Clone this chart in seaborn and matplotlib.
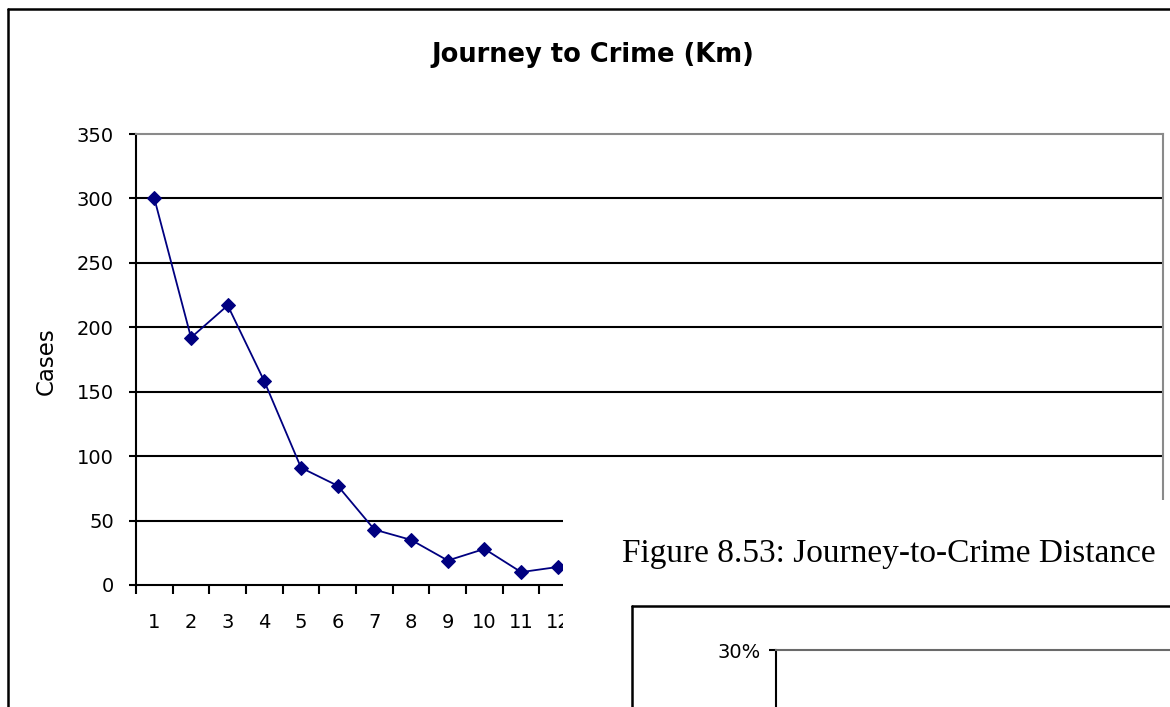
import matplotlib
matplotlib.use("Agg")
import matplotlib.pyplot as plt
import seaborn as sns
from matplotlib.lines import Line2D
from matplotlib.ticker import FixedLocator

# journey-to-crime distances (km bands) and case counts
distance_km = [1, 2, 3, 4, 5, 6, 7, 8, 9, 10, 11, 12]
cases = [300, 192, 217, 158, 91, 77, 43, 35, 19, 28, 10, 14]
n_bands = 28
y_ticks = [0, 50, 100, 150, 200, 250, 300, 350]
grid_levels = [50, 100, 150, 200, 250, 300]

W, H = 1170, 707


def fx(px):
    return px / W


def fy(py):
    return 1 - py / H


sns.set_style("white")
plt.rcParams["font.family"] = ["DejaVu Sans"]
plt.rcParams["text.color"] = "black"
plt.rcParams["xtick.color"] = "black"
plt.rcParams["ytick.color"] = "black"
plt.rcParams["xtick.labelcolor"] = "black"
plt.rcParams["ytick.labelcolor"] = "black"

fig = plt.figure(figsize=(11.7, 7.07), dpi=100)
fig.patch.set_facecolor("white")

# outer chart frame (continues off the right and bottom edges)
fig.add_artist(Line2D([fx(8), 1], [fy(9), fy(9)], color="black", lw=1.8, transform=fig.transFigure))
fig.add_artist(Line2D([fx(8), fx(8)], [0, fy(9)], color="black", lw=1.8, transform=fig.transFigure))

fig.text(fx(593), fy(55), "Journey to Crime (Km)", ha="center", va="center", fontsize=18.5, weight="bold")
fig.text(fx(46), fy(361), "Cases", ha="center", va="center", rotation=90, fontsize=16.5)

ax = fig.add_axes([fx(136), fy(585), fx(1163) - fx(136), fy(134) - fy(585)])
for level in grid_levels:
    ax.axhline(level, color="black", lw=1.5, zorder=1)

sns.lineplot(
    x=distance_km, y=cases, ax=ax, color="#000080", marker="D", markersize=7,
    markeredgecolor="#000080", linewidth=1.3, zorder=3,
)

ax.set_xlim(0.5, n_bands + 0.5)
ax.set_ylim(0, 350)
ax.set_yticks(y_ticks)
ax.set_xticks(range(1, n_bands + 1))
ax.xaxis.set_minor_locator(FixedLocator([i + 0.5 for i in range(n_bands + 1)]))
ax.tick_params(axis="x", which="major", length=0, pad=20, labelsize=14)
ax.tick_params(axis="x", which="minor", length=6.5, width=1.5, direction="out", color="black", bottom=True)
ax.tick_params(axis="y", length=5, width=1.5, direction="out", color="black", pad=11, labelsize=14, left=True)
ax.set_xlabel("")
ax.set_ylabel("")
for side in ["left", "bottom"]:
    ax.spines[side].set_color("black")
    ax.spines[side].set_linewidth(1.5)
for side in ["top", "right"]:
    ax.spines[side].set_color("#8a8a8a")
    ax.spines[side].set_linewidth(1.5)

# the next page of the report pasted over the lower right corner
cover = fig.add_axes([fx(563), 0, 1 - fx(563), fy(500)])
cover.set_zorder(5)
cover.set_facecolor("white")
cover.set_xlim(563, W)
cover.set_ylim(H, 500)
cover.set_xticks([])
cover.set_yticks([])
for s in cover.spines.values():
    s.set_visible(False)
cover.text(622, 562, "Figure 8.53: Journey-to-Crime Distance", family=["Liberation Serif", "DejaVu Serif"],
           fontsize=24, va="baseline", ha="left", clip_on=True)
cover.plot([632, W], [606, 606], color="black", lw=1.8)
cover.plot([632, 632], [606, H], color="black", lw=1.8)

ax2 = fig.add_axes([fx(776), 0, 1 - fx(776), fy(650)])
ax2.set_zorder(6)
ax2.set_ylim(0.2, 0.3)
ax2.set_yticks([0.3])
ax2.set_yticklabels(["30%"])
ax2.set_xticks([])
ax2.tick_params(axis="y", length=5, width=1.5, direction="out", pad=6, labelsize=14, left=True)
ax2.spines["left"].set_color("black")
ax2.spines["left"].set_linewidth(1.5)
ax2.spines["top"].set_color("#6a6a6a")
ax2.spines["top"].set_linewidth(1.5)
ax2.spines["right"].set_visible(False)
ax2.spines["bottom"].set_visible(False)

fig.savefig("out.png", dpi=100)
plt.close(fig)
